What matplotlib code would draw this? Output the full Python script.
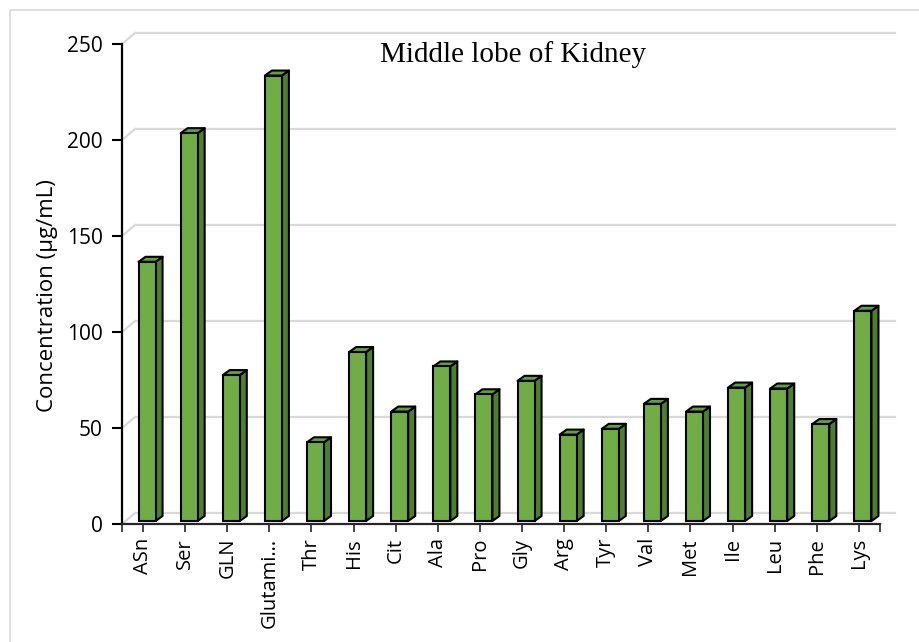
import matplotlib
matplotlib.use("Agg")
from matplotlib import pyplot as plt
from matplotlib.patches import Polygon, Rectangle

# figure data
amino_acids = ["ASn", "Ser", "GLN", "Glutami…", "Thr", "His", "Cit", "Ala", "Pro",
               "Gly", "Arg", "Tyr", "Val", "Met", "Ile", "Leu", "Phe", "Lys"]
concentration = [135, 202, 76, 232, 41, 88, 57, 80.5, 66,
                 73, 45, 48, 61, 57, 69.5, 69, 50.5, 109.5]
y_ticks = [0, 50, 100, 150, 200, 250]

# figure params
W, H = 920, 642
front_color = "#70ad47"
side_color = "#4e7f30"
top_color = "#62a03d"
grid_color = "#d9d9d9"

fig = plt.figure(figsize=(W / 100, H / 100), dpi=100)
ax = fig.add_axes([122 / W, (H - 524) / H, (880 - 122) / W, 480 / H])
ax.set_xlim(0, len(amino_acids))
ax.set_ylim(0, 250)

# pixel -> data scale
px_x = len(amino_acids) / (880 - 122)
px_y = 250 / 480

# back wall / side wall gridlines (3d look)
wall_dx, wall_dy = 13 * px_x, 11 * px_y
wall_right = (895 - 122) * px_x
for v in y_ticks:
    ax.plot([wall_dx, wall_right], [v + wall_dy, v + wall_dy], color=grid_color,
            lw=1.6, clip_on=False, zorder=0)
    ax.plot([0, wall_dx], [v, v + wall_dy], color=grid_color, lw=1.6,
            clip_on=False, zorder=0)

# bars
bar_w = 17 * px_x
dep_x, dep_y = 7 * px_x, 5 * px_y
base = 3 * px_y
shift = 4 * px_x
for i, v in enumerate(concentration):
    x0 = i + 0.5 - bar_w / 2 + shift
    x1 = x0 + bar_w
    top = base + v
    side = Polygon([(x1, base), (x1 + dep_x, base + dep_y), (x1 + dep_x, top + dep_y), (x1, top)],
                   closed=True, fc=side_color, ec="black", lw=1.5, joinstyle="round", zorder=2)
    cap = Polygon([(x0, top), (x1, top), (x1 + dep_x, top + dep_y), (x0 + dep_x, top + dep_y)],
                  closed=True, fc=top_color, ec="black", lw=1.5, joinstyle="round", zorder=2, clip_on=False)
    ax.add_patch(side)
    ax.add_patch(cap)
    ax.bar(x0, v, width=bar_w, bottom=base, align="edge", color=front_color,
           edgecolor="black", linewidth=1.5, zorder=3)

# axes styling
for s in ["top", "right"]:
    ax.spines[s].set_visible(False)
ax.spines["left"].set_linewidth(1.6)
ax.spines["bottom"].set_linewidth(1.6)
ax.spines["bottom"].set_color("#262626")

ax.set_yticks(y_ticks)
ax.set_yticklabels([str(t) for t in y_ticks], fontsize=15, family="Open Sans")
ax.set_xticks([i + 0.5 for i in range(len(amino_acids))])
ax.set_xticklabels(amino_acids, rotation=90, fontsize=14.5, family="Open Sans")
ax.set_xticks([0, len(amino_acids)], minor=True)
ax.tick_params(axis="y", length=7, width=1.5, pad=7)
ax.tick_params(axis="x", which="both", length=6, width=1.2, color="#262626", pad=4)

fig.text(48 / W, 1 - 296 / H, "Concentration (µg/mL)", rotation=90, ha="center",
         va="center", fontsize=16, family="Open Sans")
fig.text(513 / W, 1 - 62 / H, "Middle lobe of Kidney", ha="center", va="baseline",
         fontsize=21, family="Liberation Serif")

fig.patches.append(Rectangle((10 / W, -0.1), 1.2, 1 - 10 / H + 0.1, transform=fig.transFigure,
                             fill=False, ec=grid_color, lw=1.2))

plt.rcParams['savefig.facecolor'] = "1"
fig.savefig("out.png", dpi=100, facecolor="white")
